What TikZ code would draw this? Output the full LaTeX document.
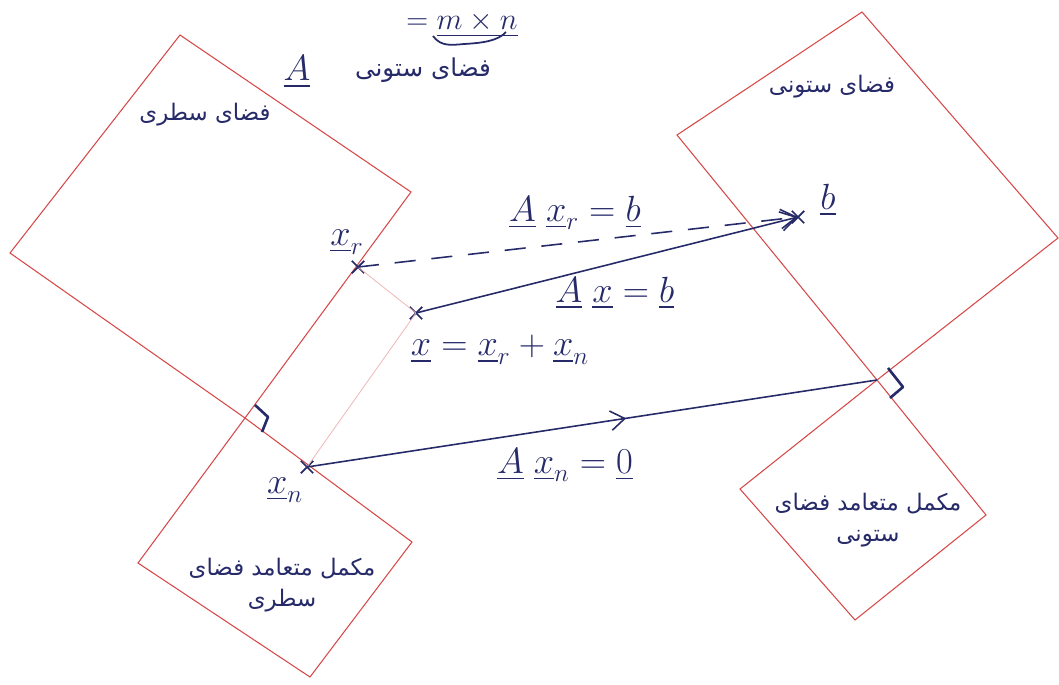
\documentclass[tikz,border=0pt]{standalone}
\usepackage{amsmath}
\usepackage{fontspec}
\usepackage{tikz}
\usetikzlibrary{shapes.misc,arrows.meta,decorations.markings}
\newfontfamily\farsi[Script=Arabic]{DejaVu Sans}
\TeXXeTstate=1
\definecolor{ink}{RGB}{38,42,105}
\definecolor{edge}{RGB}{214,72,72}

\begin{document}
\begin{tikzpicture}[x=0.02cm, y=-0.02cm,
    box/.style={draw=edge, line width=0.6pt},
    guide/.style={draw=edge!40, line width=0.45pt},
    pt/.style={cross out, draw=ink, line width=1pt, minimum size=6pt, inner sep=0pt},
    lbl/.style={text=ink, font=\fontsize{20}{22}\selectfont},
    fa/.style={text=ink, font=\farsi\fontsize{13}{18}\selectfont, align=center},
    map/.style={draw=ink, line width=0.9pt},
    tip/.style={-{Straight Barb[length=9pt,width=11pt]}},
    rt/.style={draw=ink, line width=1.5pt, line join=round}]
                        \useasboundingbox (0,0) rectangle (1059,684);

                        % corners of the four subspaces
                        \coordinate (rT) at (180,35);
                        \coordinate (rR) at (411,192);
                        \coordinate (rB) at (245,418);
                        \coordinate (rL) at (10,253);
                        \coordinate (nR) at (412,542);
                        \coordinate (nB) at (310,677);
                        \coordinate (nL) at (138,563);
                        \coordinate (cT) at (862,12);
                        \coordinate (cR) at (1058,238);
                        \coordinate (cB) at (877,380);
                        \coordinate (cL) at (677,135);
                        \coordinate (lR) at (986,515);
                        \coordinate (lB) at (855,620);
                        \coordinate (lL) at (740,489);

                        \draw [box] (rT) -- (rR) -- (rB) -- (rL) -- cycle;
                        \draw [box] (rB) -- (nR) -- (nB) -- (nL) -- cycle;
                        \draw [box] (cT) -- (cR) -- (cB) -- (cL) -- cycle;
                        \draw [box] (cB) -- (lR) -- (lB) -- (lL) -- cycle;

                        % points
                        \node [pt] (xr) at (358,267) {};
                        \node [pt] (x) at (416,313) {};
                        \node [pt] (xn) at (307,467) {};
                        \node [pt] (b) at (798,217) {};

                        \draw [guide] (xr.center) -- (x.center) -- (xn.center);

                        % maps
                        \draw [map, dashed, dash pattern=on 12pt off 9pt, tip] (xr.center) -- (b.center);
                        \draw [map, tip] (x.center) -- (b.center);
                        \draw [map, postaction={decorate}, decoration={markings,
                            mark=at position 0.56 with {\arrow{Straight Barb[length=8pt,width=11pt]}}}]
                            (xn.center) -- (cB);

                        % right angles
                        \draw [rt] (255,405) -- (268,417) -- (262,432);
                        \draw [rt] (888,368) -- (903,387) -- (890,398);

                        % labels
                        \node [lbl] (xrlab) at (347,242) {$\underline{x}_r$};
                        \node [lbl] (blab) at (828,200) {$\underline{b}$};
                        \node [lbl] (xnlab) at (285,490) {$\underline{x}_n$};
                        \node [lbl] (eqr) at (575,213) {$\underline{A}\;\underline{x}_r=\underline{b}$};
                        \node [lbl] (eqx) at (615,293) {$\underline{A}\;\underline{x}=\underline{b}$};
                        \node [lbl] (eqsum) at (500,350) {$\underline{x}=\underline{x}_r+\underline{x}_n$};
                        \node [lbl] (eqn) at (565,465) {$\underline{A}\;\underline{x}_n=\underline{0}$};

                        \node [lbl, anchor=base, font=\fontsize{16}{18}\selectfont] (dim) at (462,29) {$=\underline{m\times n}$};
                        \draw [ink, line width=1pt] (433,36) .. controls (441,47) and (452,45) .. (464,44)
                            .. controls (482,43) and (498,41) .. (506,32);

                        \node [lbl] (titleA) at (297,72) {$\underline{A}$};
                        \node [fa, font=\farsi\fontsize{14}{18}\selectfont] (title) at (423,70) {\beginR فضای ستونی\endR};
                        \node [fa] (row) at (205,115) {\beginR فضای سطری\endR};
                        \node [fa] (col) at (832,87) {\beginR فضای ستونی\endR};
                        \node [fa] (nul) at (282,585) {\beginR مکمل متعامد فضای\endR\\\beginR سطری\endR};
                        \node [fa] (lnul) at (868,520) {\beginR مکمل متعامد فضای\endR\\\beginR ستونی\endR};
                    \end{tikzpicture}
\end{document}
